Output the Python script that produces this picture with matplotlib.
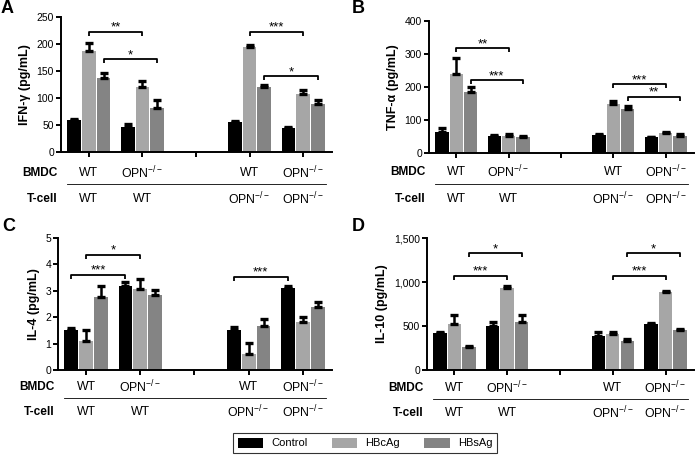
import matplotlib
matplotlib.use("Agg")
import numpy as np
import matplotlib.pyplot as plt
from matplotlib.patches import Patch
from matplotlib.transforms import blended_transform_factory

plt.rcParams['font.family'] = ['Liberation Sans', 'DejaVu Sans']
plt.rcParams['mathtext.default'] = 'regular'

series = ['Control', 'HBcAg', 'HBsAg']
colors = ['#000000', '#a6a6a6', '#848484']
group_pos = [1, 2, 4, 5]
bmdc_labels = ['WT', 'OPN$^{-/-}$', 'WT', 'OPN$^{-/-}$']
tcell_labels = ['WT', 'WT', 'OPN$^{-/-}$', 'OPN$^{-/-}$']

# values per series, groups in order WT/WT, OPN/WT, WT/OPN, OPN/OPN
ifn_mean = [[59, 46, 55, 44], [187, 121, 195, 107], [137, 81, 121, 88]]
ifn_err = [[2, 5, 3, 2], [14, 10, 4, 8], [10, 15, 3, 8]]
tnf_mean = [[65, 52, 55, 48], [238, 53, 150, 60], [186, 50, 133, 52]]
tnf_err = [[10, 3, 4, 2], [50, 5, 9, 3], [14, 3, 10, 6]]
il4_mean = [[1.52, 3.19, 1.52, 3.12], [1.08, 3.08, 0.6, 1.82], [2.78, 2.84, 1.68, 2.38]]
il4_err = [[0.06, 0.14, 0.12, 0.06], [0.42, 0.38, 0.42, 0.2], [0.42, 0.18, 0.26, 0.2]]
il10_mean = [[420, 505, 385, 522], [525, 928, 410, 885], [258, 540, 335, 450]]
il10_err = [[15, 45, 45, 15], [95, 30, 20, 15], [15, 85, 15, 20]]

# brackets: (group a, series a, group b, series b, height, label)
ifn_sig = [(0, 1, 1, 1, 223, '**'), (0, 2, 1, 2, 172, '*'),
           (2, 1, 3, 1, 223, '***'), (2, 2, 3, 2, 140, '*')]
tnf_sig = [(0, 1, 1, 1, 318, '**'), (0, 2, 1, 2, 221, '***'),
           (2, 1, 3, 1, 208, '***'), (2, 2, 3, 2, 171, '**')]
il4_sig = [(0, 1, 1, 1, 4.37, '*'), (0, 0, 1, 0, 3.61, '***'),
           (2, 0, 3, 0, 3.54, '***')]
il10_sig = [(0, 2, 1, 2, 1326, '*'), (0, 1, 1, 1, 1068, '***'),
            (2, 2, 3, 2, 1326, '*'), (2, 1, 3, 1, 1068, '***')]

W, H = 700, 455
fig = plt.figure(figsize=(7, 4.55), dpi=100)

bw = 0.255
off = 0.275


def px_axes(l, r, top, bot):
    return fig.add_axes([l / W, 1 - bot / H, (r - l) / W, (bot - top) / H])


def panel(ax, mean, err, sig, ymax, yticks, ylab, letter, rows_px, ticklabels=None):
    for i in range(3):
        x = np.array(group_pos) + (i - 1) * off
        ax.bar(x, mean[i], bw, color=colors[i], edgecolor='none', zorder=2)
        ax.errorbar(x, mean[i], yerr=[np.zeros(4), err[i]], fmt='none',
                    ecolor='black', elinewidth=1.8, capsize=2.6, capthick=2.4, zorder=3)
    ax.set_xlim(0.48, 5.54)
    ax.set_ylim(0, ymax)
    ax.set_yticks(yticks)
    if ticklabels:
        ax.set_yticklabels(ticklabels)
    ax.set_xticks([1, 2, 3, 4, 5])
    ax.set_xticklabels([])
    for s in ['top', 'right']:
        ax.spines[s].set_visible(False)
    for s in ['left', 'bottom']:
        ax.spines[s].set_linewidth(1.4)
    ax.tick_params(axis='both', direction='out', width=1.4, length=3.5, labelsize=7.5, pad=1.5)
    ax.set_ylabel(ylab, fontsize=9, fontweight='bold', labelpad=4)

    drop = ymax * 0.03
    for ga, sa, gb, sb, y, lab in sig:
        xa = group_pos[ga] + (sa - 1) * off
        xb = group_pos[gb] + (sb - 1) * off
        ax.plot([xa, xa, xb, xb], [y - drop, y, y, y - drop], color='black', lw=1.3,
                solid_capstyle='butt', zorder=4)
        ax.annotate(lab, ((xa + xb) / 2, y), xytext=(0, 0.8), textcoords='offset points',
                    ha='center', va='baseline', fontsize=9.5)

    tr = blended_transform_factory(ax.transData, fig.transFigure)
    y_bmdc, y_line, y_tcell = [1 - p / H for p in rows_px]
    for g, b, t in zip(group_pos, bmdc_labels, tcell_labels):
        ax.text(g, y_bmdc, b, transform=tr, ha='center', va='center', fontsize=8.8)
        ax.text(g, y_tcell, t, transform=tr, ha='center', va='center', fontsize=8.8)
    ax.plot([0.6, 5.42], [y_line, y_line], transform=tr, color='black', lw=0.6, clip_on=False)
    ax.text(0.42, y_bmdc, 'BMDC', transform=tr, ha='right', va='center', fontsize=8.6,
            fontweight='bold')
    ax.text(0.42, y_tcell, 'T-cell', transform=tr, ha='right', va='center', fontsize=8.6,
            fontweight='bold')

    ax.text(letter[1] / W, 1 - letter[2] / H, letter[0], transform=fig.transFigure,
            ha='left', va='top', fontsize=13, fontweight='bold')


axA = px_axes(61, 332, 17, 152)
panel(axA, ifn_mean, ifn_err, ifn_sig, 250, [0, 50, 100, 150, 200, 250],
      'IFN-\u03b3 (pg/mL)', ('A', 1, 0), (173, 184, 199))

axB = px_axes(429, 694, 21, 153)
panel(axB, tnf_mean, tnf_err, tnf_sig, 400, [0, 100, 200, 300, 400],
      'TNF-\u03b1 (pg/mL)', ('B', 352, 0), (172, 184, 199))

axC = px_axes(58, 332, 238, 370)
panel(axC, il4_mean, il4_err, il4_sig, 5, [0, 1, 2, 3, 4, 5],
      'IL-4 (pg/mL)', ('C', 2, 218), (387, 398, 412))

axD = px_axes(427, 694, 238, 370)
panel(axD, il10_mean, il10_err, il10_sig, 1500, [0, 500, 1000, 1500],
      'IL-10 (pg/mL)', ('D', 352, 218), (388, 399, 413),
      ticklabels=['0', '500', '1,000', '1,500'])

handles = [Patch(facecolor=c, edgecolor='none', label=s) for c, s in zip(colors, series)]
leg = fig.legend(handles=handles, loc='center', bbox_to_anchor=(365 / W, 1 - 443 / H),
                 ncol=3, fontsize=8, frameon=True, fancybox=False, handlelength=2.3,
                 handleheight=1.0, handletextpad=0.7, columnspacing=2.2,
                 borderpad=0.45, borderaxespad=0)
leg.get_frame().set_edgecolor('black')
leg.get_frame().set_linewidth(0.8)

fig.savefig('out.png', dpi=100)
